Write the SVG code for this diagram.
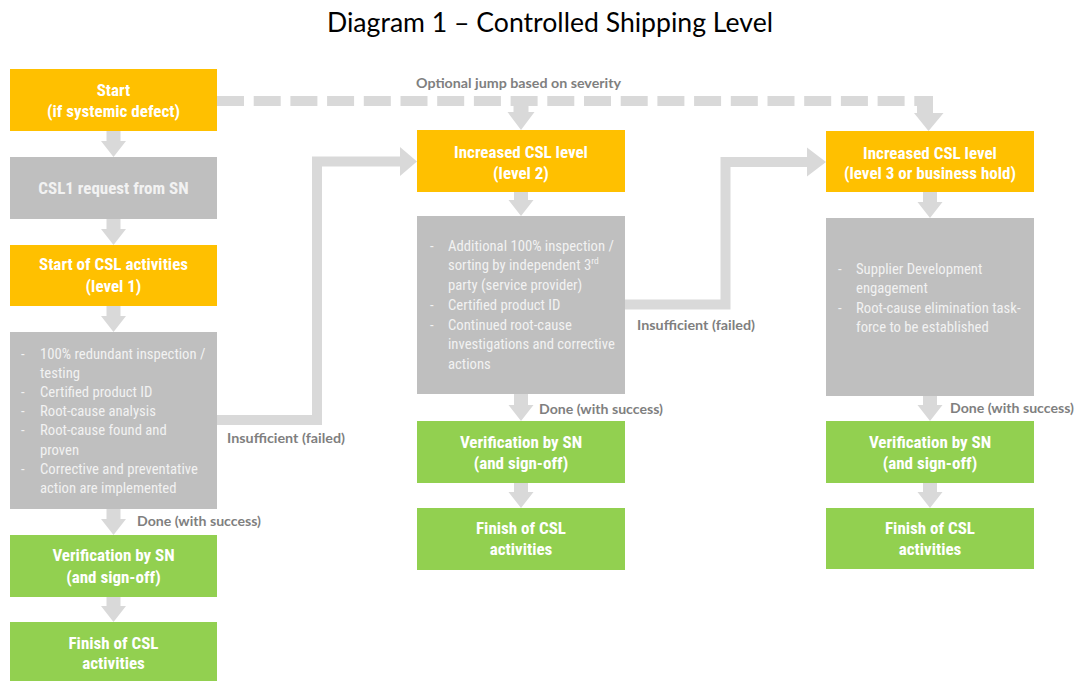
<svg xmlns="http://www.w3.org/2000/svg" width="1081" height="681" viewBox="0 0 1081 681">
<style>
  .orange { fill: #FFC000; }
  .gray { fill: #BFBFBF; }
  .green { fill: #92D050; }
  .arrow { fill: #D9D9D9; }
  .conn { fill: none; stroke: #D9D9D9; stroke-width: 10; }
  .dash { fill: none; stroke: #D9D9D9; stroke-width: 10; stroke-dasharray: 27 9.7; }
  .ttl { font-family: "Liberation Sans Narrow", "Roboto Condensed", "Arial Narrow", Roboto, sans-serif; font-weight: bold; font-size: 17px; fill: #FFFFFF; text-anchor: middle; }
  .body { font-family: "Liberation Sans Narrow", "Roboto Condensed", "Arial Narrow", Roboto, sans-serif; font-size: 14.7px; fill: #F2F2F2; }
  .lbl { font-family: Lato, "Open Sans", sans-serif; font-weight: bold; font-size: 14px; fill: #7F7F7F; }
  .title { font-family: Lato, "Open Sans", sans-serif; font-size: 26px; fill: #000000; }
</style>

<text class="title" x="327" y="32" textLength="446" lengthAdjust="spacingAndGlyphs">Diagram 1 – Controlled Shipping Level</text>

<g id="connectors">
  <!-- dashed optional jump -->
  <path class="dash" d="M217 101 H917"/>
  <path class="arrow" d="M917 96 H933 V113 H943.5 L928.5 131 L914 113 H917 Z"/>
  <path class="arrow" d="M513.5 106 H528.5 V112 H534.5 L521 130 L507.5 112 H513.5 Z"/>
  <!-- left column -->
  <path class="arrow" d="M106.5 131 H120.5 V141 H126 L113.5 157 L101 141 H106.5 Z"/>
  <path class="arrow" d="M106.5 219 H120.5 V229 H126 L113.5 245 L101 229 H106.5 Z"/>
  <path class="arrow" d="M106.5 306 H120.5 V316 H126 L113.5 332 L101 316 H106.5 Z"/>
  <path class="arrow" d="M106.5 509 H120.5 V519 H126 L113.5 535 L101 519 H106.5 Z"/>
  <path class="arrow" d="M106.5 597 H120.5 V606 H126 L113.5 622 L101 606 H106.5 Z"/>
  <!-- middle column -->
  <path class="arrow" d="M514 192 H528 V200 H533.5 L521 216 L508.5 200 H514 Z"/>
  <path class="arrow" d="M514 394 H528 V405 H533.5 L521 421 L508.5 405 H514 Z"/>
  <path class="arrow" d="M514 483 H528 V492 H533.5 L521 508 L508.5 492 H514 Z"/>
  <!-- right column -->
  <path class="arrow" d="M923 192 H937 V202 H942.5 L930 218 L917.5 202 H923 Z"/>
  <path class="arrow" d="M923 396 H937 V405 H942.5 L930 421 L917.5 405 H923 Z"/>
  <path class="arrow" d="M923 483 H937 V492 H942.5 L930 508 L917.5 492 H923 Z"/>
  <!-- elbow connectors -->
  <path class="conn" d="M217 420 H317 V161.5 H401"/>
  <path class="arrow" d="M400 147 L417 161.5 L400 176 Z"/>
  <path class="conn" d="M625 304.5 H725.5 V162 H808"/>
  <path class="arrow" d="M807 147.5 L826 162 L807 176.5 Z"/>
  <!-- labels -->
  <text class="lbl" x="416" y="88" textLength="205" lengthAdjust="spacingAndGlyphs">Optional jump based on severity</text>
  <text class="lbl" x="227" y="443" textLength="118" lengthAdjust="spacingAndGlyphs">Insufficient (failed)</text>
  <text class="lbl" x="137" y="526" textLength="124" lengthAdjust="spacingAndGlyphs">Done (with success)</text>
  <text class="lbl" x="637" y="330" textLength="118" lengthAdjust="spacingAndGlyphs">Insufficient (failed)</text>
  <text class="lbl" x="539" y="414" textLength="124" lengthAdjust="spacingAndGlyphs">Done (with success)</text>
  <text class="lbl" x="950" y="413" textLength="124" lengthAdjust="spacingAndGlyphs">Done (with success)</text>
</g>

<!-- Left column -->
<g id="start">
  <rect class="orange" x="10" y="69" width="207" height="62"/>
  <text class="ttl" x="113.5" y="96">Start</text>
  <text class="ttl" x="113.5" y="117">(if systemic defect)</text>
</g>
<g id="csl1-request">
  <rect class="gray" x="10" y="157" width="207" height="62"/>
  <text class="ttl" x="113.5" y="194" style="fill:#F2F2F2">CSL1 request from SN</text>
</g>
<g id="start-csl">
  <rect class="orange" x="10" y="245" width="207" height="61"/>
  <text class="ttl" x="113.5" y="270">Start of CSL activities</text>
  <text class="ttl" x="113.5" y="292">(level 1)</text>
</g>
<g id="level1-activities">
  <rect class="gray" x="10" y="332" width="207" height="177"/>
  <g class="body">
    <text x="21" y="358.5">-</text><text x="40" y="358.5">100% redundant inspection /</text>
    <text x="40" y="377.7">testing</text>
    <text x="21" y="396.9">-</text><text x="40" y="396.9">Certified product ID</text>
    <text x="21" y="416.1">-</text><text x="40" y="416.1">Root-cause analysis</text>
    <text x="21" y="435.3">-</text><text x="40" y="435.3">Root-cause found and</text>
    <text x="40" y="454.5">proven</text>
    <text x="21" y="473.7">-</text><text x="40" y="473.7">Corrective and preventative</text>
    <text x="40" y="492.9">action are implemented</text>
  </g>
</g>
<g id="verify1">
  <rect class="green" x="10" y="535" width="207" height="62"/>
  <text class="ttl" x="113.5" y="561">Verification by SN</text>
  <text class="ttl" x="113.5" y="583">(and sign-off)</text>
</g>
<g id="finish1">
  <rect class="green" x="10" y="622" width="207" height="59"/>
  <text class="ttl" x="113.5" y="649">Finish of CSL</text>
  <text class="ttl" x="113.5" y="669">activities</text>
</g>

<!-- Middle column -->
<g id="level2">
  <rect class="orange" x="417" y="130" width="208" height="62"/>
  <text class="ttl" x="521" y="158">Increased CSL level</text>
  <text class="ttl" x="521" y="179">(level 2)</text>
</g>
<g id="level2-activities">
  <rect class="gray" x="417" y="216" width="208" height="178"/>
  <g class="body">
    <text x="430" y="250.5">-</text><text x="448" y="250.5">Additional 100% inspection /</text>
    <text x="448" y="270">sorting by independent 3<tspan font-size="9.5" dy="-6">rd</tspan></text>
    <text x="448" y="289.5">party (service provider)</text>
    <text x="430" y="310">-</text><text x="448" y="310">Certified product ID</text>
    <text x="430" y="329.5">-</text><text x="448" y="329.5">Continued root-cause</text>
    <text x="448" y="349">investigations and corrective</text>
    <text x="448" y="368.5">actions</text>
  </g>
</g>
<g id="verify2">
  <rect class="green" x="417" y="421" width="208" height="62"/>
  <text class="ttl" x="521" y="448">Verification by SN</text>
  <text class="ttl" x="521" y="469">(and sign-off)</text>
</g>
<g id="finish2">
  <rect class="green" x="417" y="508" width="208" height="62"/>
  <text class="ttl" x="521" y="534">Finish of CSL</text>
  <text class="ttl" x="521" y="555">activities</text>
</g>

<!-- Right column -->
<g id="level3">
  <rect class="orange" x="826" y="131" width="208" height="61"/>
  <text class="ttl" x="930" y="159">Increased CSL level</text>
  <text class="ttl" x="930" y="179">(level 3 or business hold)</text>
</g>
<g id="level3-activities">
  <rect class="gray" x="826" y="218" width="208" height="178"/>
  <g class="body">
    <text x="838" y="273.5">-</text><text x="856" y="273.5">Supplier Development</text>
    <text x="856" y="292.5">engagement</text>
    <text x="838" y="312.5">-</text><text x="856" y="312.5">Root-cause elimination task-</text>
    <text x="856" y="331.5">force to be established</text>
  </g>
</g>
<g id="verify3">
  <rect class="green" x="826" y="421" width="208" height="62"/>
  <text class="ttl" x="930" y="448">Verification by SN</text>
  <text class="ttl" x="930" y="469">(and sign-off)</text>
</g>
<g id="finish3">
  <rect class="green" x="826" y="508" width="208" height="61"/>
  <text class="ttl" x="930" y="534">Finish of CSL</text>
  <text class="ttl" x="930" y="555">activities</text>
</g>
</svg>
